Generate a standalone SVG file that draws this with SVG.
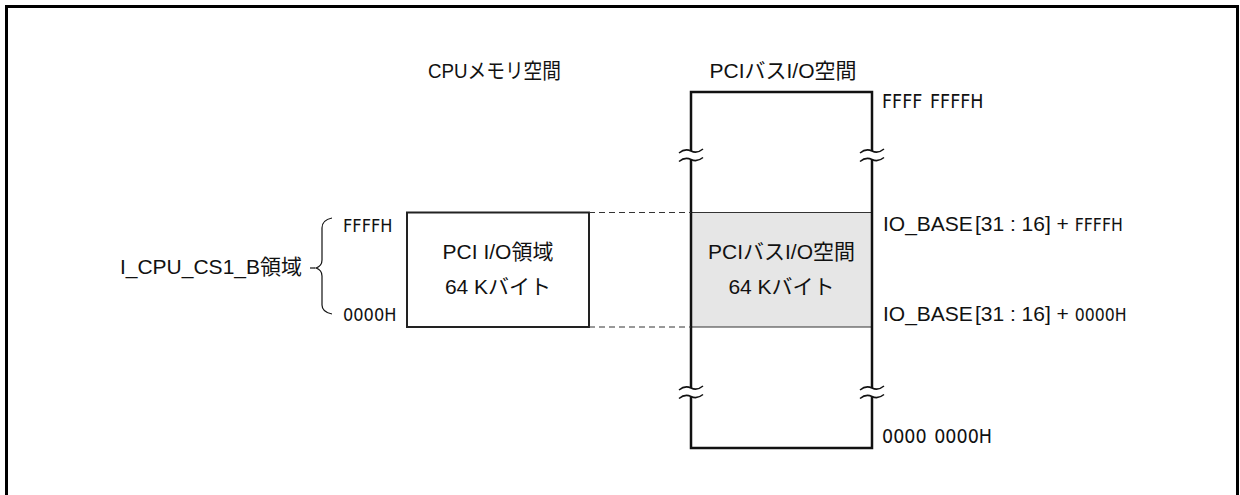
<svg xmlns="http://www.w3.org/2000/svg" width="1240" height="495" viewBox="0 0 1240 495">
<style>
.t{font-family:"Liberation Sans","Noto Sans CJK JP",sans-serif;font-size:21px;fill:#111}
.h{font-family:"DejaVu Sans Condensed","DejaVu Sans",sans-serif;font-stretch:condensed;font-size:18px;fill:#111}
.box{fill:none;stroke:#111;stroke-width:2.5}
.thin{fill:none;stroke:#333;stroke-width:1}
.dash{fill:none;stroke:#333;stroke-width:1;stroke-dasharray:6 4}
.wave{fill:none;stroke:#111;stroke-width:1.5}
</style>
<rect x="0" y="0" width="1240" height="495" fill="#fff"/>
<g id="frame"><path d="M6.5,500 V6.5 H1237.5 V500" fill="none" stroke="#000" stroke-width="3"/></g>

<g id="titles">
<text class="t" x="428" y="78" textLength="133" lengthAdjust="spacingAndGlyphs">CPUメモリ空間</text>
<text class="t" x="783" y="78" text-anchor="middle">PCIバスI/O空間</text>
</g>

<g id="bus-space">
<rect x="691" y="212.5" width="181" height="114.5" fill="#e6e6e6"/>
<line class="thin" x1="691" y1="212.5" x2="872" y2="212.5"/>
<line class="thin" x1="691" y1="327" x2="872" y2="327"/>
<path class="box" d="M691,151 V92 H872 V151"/>
<path class="box" d="M691,159.5 V388"/>
<path class="box" d="M872,159.5 V388"/>
<path class="box" d="M691,396.5 V448 H872 V396.5"/>
<path class="wave" d="M679,153 Q685,148 691,151 T703,149"/>
<path class="wave" d="M679,161.5 Q685,156.5 691,159.5 T703,157.5"/>
<path class="wave" d="M860,153 Q866,148 872,151 T884,149"/>
<path class="wave" d="M860,161.5 Q866,156.5 872,159.5 T884,157.5"/>
<path class="wave" d="M679,390 Q685,385 691,388 T703,386"/>
<path class="wave" d="M679,398.5 Q685,393.5 691,396.5 T703,394.5"/>
<path class="wave" d="M860,390 Q866,385 872,388 T884,386"/>
<path class="wave" d="M860,398.5 Q866,393.5 872,396.5 T884,394.5"/>
<text class="t" x="781.5" y="259" text-anchor="middle">PCIバスI/O空間</text>
<text class="t" x="781.5" y="294" text-anchor="middle">64 Kバイト</text>
<text class="h" x="882" y="108" style="font-size:19.5px" word-spacing="2">FFFF FFFFH</text>
<text class="h" x="882" y="443" style="font-size:19.5px" word-spacing="2">0000 0000H</text>
<text class="t" x="883" y="231">IO_BASE<tspan dx="2">[31 : 16] + </tspan><tspan class="h" style="font-size:17.5px">FFFFH</tspan></text>
<text class="t" x="883" y="321">IO_BASE<tspan dx="2">[31 : 16] + </tspan><tspan class="h" style="font-size:17.5px">0000H</tspan></text>
</g>

<g id="cpu-space">
<rect x="407" y="212.5" width="182" height="114.5" fill="#fff" stroke="#222" stroke-width="2"/>
<text class="t" x="498" y="259" text-anchor="middle">PCI I/O領域</text>
<text class="t" x="498" y="294" text-anchor="middle">64 Kバイト</text>
</g>

<g id="cs1-region">
<path d="M332,218 Q322,220 322,228 V260 Q322,266 316,268 Q322,270 322,276 V305 Q322,312 332,314" fill="none" stroke="#111" stroke-width="1.2"/>
<line x1="310" y1="268" x2="315" y2="268" stroke="#111" stroke-width="1.2"/>
<text class="t" x="302" y="274" text-anchor="end">I_CPU_CS1_B領域</text>
<text class="h" x="343" y="232">FFFFH</text>
<text class="h" x="343" y="321">0000H</text>
</g>

<g id="connectors">
<line class="dash" x1="589" y1="212.5" x2="691" y2="212.5"/>
<line class="dash" x1="589" y1="327" x2="691" y2="327"/>
</g>
</svg>
